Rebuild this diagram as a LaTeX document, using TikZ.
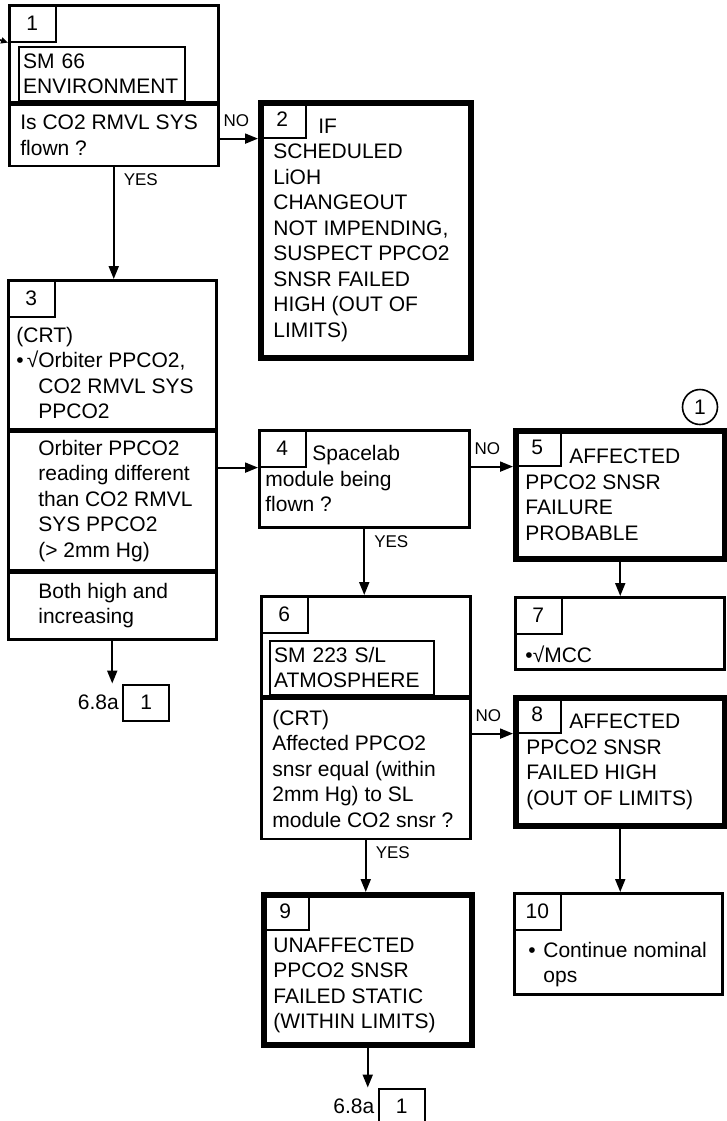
\documentclass[tikz,border=0pt]{standalone}
\usepackage{fontspec}
\setmainfont{Liberation Sans}
\usetikzlibrary{arrows.meta,positioning}
\newcommand\bodyfont{\fontsize{10.5pt}{12.75pt}\selectfont}
\newcommand\tagfont{\fontsize{8.5pt}{10pt}\selectfont}
\tikzset{
  stepbox/.style={draw,rectangle,line width=1.25pt,inner sep=0pt,anchor=north west},
  endbox/.style={stepbox,line width=2.75pt},
  numtab/.style={draw,rectangle,line width=0.8pt,inner sep=0pt,minimum width=23.5pt,minimum height=18.5pt,anchor=north west,font=\bodyfont},
  dispbox/.style={draw,rectangle,line width=1.1pt,inner xsep=2pt,inner ysep=0pt,minimum height=27pt,align=left,font=\bodyfont},
  txt/.style={inner sep=0pt,align=left,font=\bodyfont},
  lbl/.style={inner sep=0pt,font=\tagfont},
  flow/.style={-{Triangle[length=6.5pt,width=5pt]},line width=1pt},
  conbox/.style={draw,rectangle,line width=1pt,minimum width=23pt,minimum height=18pt,inner sep=0pt,font=\bodyfont,anchor=north west},
  notecirc/.style={draw,circle,line width=0.8pt,minimum size=17.5pt,inner sep=0pt,font=\bodyfont}
}

\begin{document}
\begin{tikzpicture}[x=0.5pt,y=-0.5pt]
\useasboundingbox (0,0) rectangle (727,1121);

% block 1
\node[stepbox,minimum width=104.5pt,minimum height=48.5pt] (b1) at (8,4) {};
\node[stepbox,minimum width=104.5pt,minimum height=30.5pt,below=0pt of b1] (q1) {};
\node[numtab] (t1) at (b1.north west) {1};
\node[dispbox,text width=79pt,below right=1.5pt and 5pt of t1.south west] (d1) {SM 66\\ENVIRONMENT};
\node[txt,right=6pt of q1.west] (q1txt) {Is CO2 RMVL SYS\\flown ?};
\coordinate (entry) at (0,40);

% block 2
\node[endbox,minimum width=105pt,minimum height=127.5pt] (b2) at (258,100) {};
\node[numtab] (t2) at (b2.north west) {2};
\node[txt,right=7.5pt of b2.west] (b2txt) {\hspace*{22.5pt}IF\\SCHEDULED\\LiOH\\CHANGEOUT\\NOT IMPENDING,\\SUSPECT PPCO2\\SNSR FAILED\\HIGH (OUT OF\\LIMITS)};

% block 3
\node[stepbox,minimum width=104pt,minimum height=74.5pt] (s3a) at (7,279) {};
\node[stepbox,minimum width=104pt,minimum height=69pt,below=0pt of s3a] (s3b) {};
\node[stepbox,minimum width=104pt,minimum height=33.5pt,below=0pt of s3b] (s3c) {};
\node[numtab] (t3) at (s3a.north west) {3};
\node[txt,below right=3.3pt and 4.5pt of t3.south west] (s3atxt) {\strut(CRT)\\\makebox[11pt][l]{•\hfill√}Orbiter PPCO2,\\\hspace*{11pt}CO2 RMVL SYS\\\hspace*{11pt}PPCO2};
\node[txt,right=15.5pt of s3b.west] (s3btxt) {Orbiter PPCO2\\reading different\\than CO2 RMVL\\SYS PPCO2\\(> 2mm Hg)};
\node[txt,right=15.5pt of s3c.west] (s3ctxt) {Both high and\\increasing};
\node[conbox,below right=21.5pt and 5pt of s3c.south] (con1) {1};
\node[txt,left=1.5pt of con1] (ref1) {6.8a};

% block 4
\node[stepbox,minimum width=105pt,minimum height=48.5pt] (b4) at (258,429) {};
\node[numtab] (t4) at (b4.north west) {4};
\node[txt,right=3.5pt of b4.west] (b4txt) {\hspace*{23.5pt}Spacelab\\module being\\flown ?};

% block 5
\node[endbox,minimum width=104.5pt,minimum height=64pt] (b5) at (513,428) {};
\node[numtab] (t5) at (b5.north west) {5};
\node[txt,right=6pt of b5.west] (b5txt) {\hspace*{22pt}AFFECTED\\PPCO2 SNSR\\FAILURE\\PROBABLE};
\node[notecirc] (c1) at (700,407) {1};

% block 6
\node[stepbox,minimum width=104.5pt,minimum height=50pt] (s6a) at (260,595) {};
\node[stepbox,minimum width=104.5pt,minimum height=70pt,below=0pt of s6a] (s6b) {};
\node[numtab] (t6) at (s6a.north west) {6};
\node[dispbox,text width=78pt,below right=3pt and 4.5pt of t6.south west] (d6) {SM 223 S/L\\ATMOSPHERE};
\node[txt,right=6pt of s6b.west] (s6btxt) {(CRT)\\Affected PPCO2\\snsr equal (within\\2mm Hg) to SL\\module CO2 snsr ?};

% block 7
\node[stepbox,minimum width=104.5pt,minimum height=36pt] (b7) at (514,596) {};
\node[numtab] (t7) at (b7.north west) {7};
\node[txt,below right=4.8pt and 5.5pt of t7.south west] (b7txt) {\strut•√MCC};

% block 8
\node[endbox,minimum width=104.5pt,minimum height=64pt] (b8) at (513,695) {};
\node[numtab] (t8) at (b8.north west) {8};
\node[txt,right=6.5pt of b8.west] (b8txt) {\hspace*{21.5pt}AFFECTED\\PPCO2 SNSR\\FAILED HIGH\\(OUT OF LIMITS)};

% block 9
\node[endbox,minimum width=104pt,minimum height=75pt] (b9) at (261,892) {};
\node[numtab] (t9) at (b9.north west) {9};
\node[txt,below right=1.8pt and 6pt of t9.south west] (b9txt) {\strut UNAFFECTED\\PPCO2 SNSR\\FAILED STATIC\\(WITHIN LIMITS)};
\node[conbox,below right=20pt and 5pt of b9.south] (con2) {1};
\node[txt,left=1.5pt of con2] (ref2) {6.8a};

% block 10
\node[stepbox,minimum width=104pt,minimum height=50.5pt] (b10) at (513,892) {};
\node[numtab] (t10) at (b10.north west) {10};
\node[txt,below right=4.3pt and 7.5pt of t10.south west] (b10txt) {\strut\makebox[7.5pt][l]{•}Continue nominal\\\hspace*{7.5pt}ops};

% connectors
\draw[-{Triangle[length=3.5pt,width=3pt]},line width=0.8pt] (entry) -- (t1.south west);
\draw[flow] (q1.east |- t2.south west) -- node[lbl,pos=0,above right=5.5pt and 1.5pt] {NO} (t2.south west);
\draw[flow] (q1.south) -- node[lbl,pos=0,below right=3pt and 4.5pt] {YES} (q1.south |- s3a.north);
\draw[flow] (s3b.east |- t4.south west) -- (t4.south west);
\draw[flow] (s3c.south) -- (s3c.south |- con1.north);
\draw[flow] (b4.east |- t5.south west) -- node[lbl,pos=0,above right=5.5pt and 1.5pt] {NO} (t5.south west);
\draw[flow] (b4.south) -- node[lbl,pos=0,below right=3pt and 4.5pt] {YES} (b4.south |- s6a.north);
\draw[flow] (b5.south) -- (b5.south |- b7.north);
\draw[flow] (s6b.east |- t8.south west) -- node[lbl,pos=0,above right=5.5pt and 1.5pt] {NO} (t8.south west);
\draw[flow] (s6b.south) -- node[lbl,pos=0,below right=3pt and 4.5pt] {YES} (s6b.south |- b9.north);
\draw[flow] (b8.south) -- (b8.south |- b10.north);
\draw[flow] (b9.south) -- (b9.south |- con2.north);

\end{tikzpicture}
\end{document}
